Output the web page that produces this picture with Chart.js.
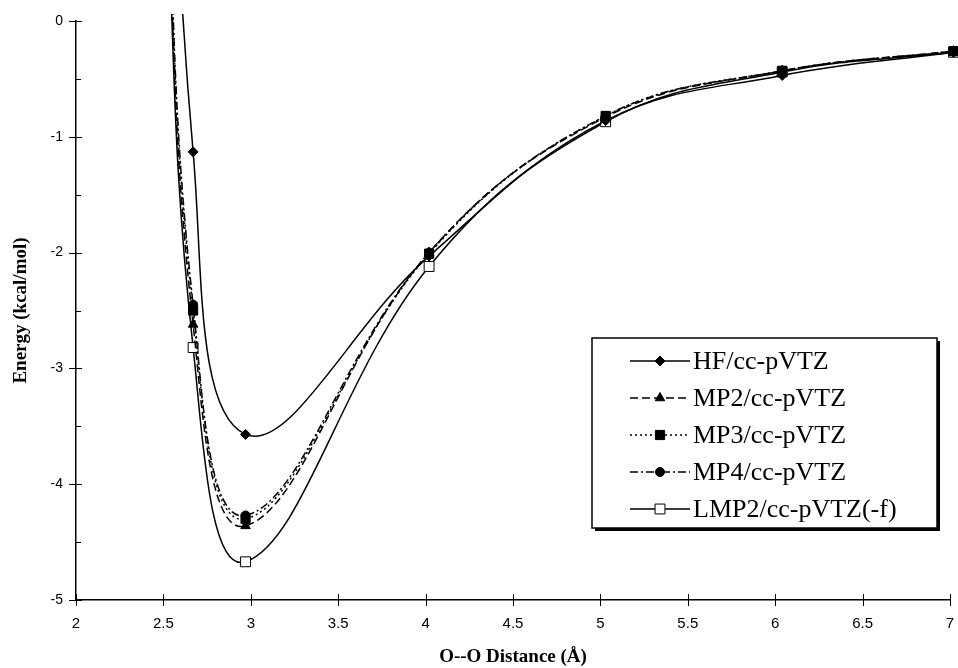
<!DOCTYPE html>
<html>
<head>
<meta charset="utf-8">
<script src="https://cdn.jsdelivr.net/npm/chart.js@4/dist/chart.umd.min.js"></script>
<style>
  html, body { margin: 0; padding: 0; background: #fff; }
  #wrap { width: 958px; height: 668px; }
</style>
</head>
<body>
<div id="wrap"><canvas id="chart" width="958" height="668"></canvas></div>
<script>
// data (O--O distance in angstrom, energy in kcal/mol)
const distances = [2.5, 2.67, 2.97, 4.02, 5.03, 6.04, 7.02];
const hfValues   = [4.5, -1.13, -3.57, -2.03, -0.86, -0.47, -0.27];
const mp2Values  = [2.0, -2.62, -4.36, -2.00, -0.83, -0.43, -0.26];
const mp3Values  = [2.1, -2.50, -4.30, -2.01, -0.82, -0.43, -0.26];
const mp4Values  = [2.2, -2.45, -4.27, -2.00, -0.82, -0.43, -0.26];
const lmp2Values = [1.8, -2.82, -4.67, -2.12, -0.87, -0.44, -0.27];

const seriesNames = ['HF/cc-pVTZ', 'MP2/cc-pVTZ', 'MP3/cc-pVTZ', 'MP4/cc-pVTZ', 'LMP2/cc-pVTZ(-f)'];
const xTicks = [2, 2.5, 3, 3.5, 4, 4.5, 5, 5.5, 6, 6.5, 7];

const sansFont = '"Liberation Sans Narrow", "Liberation Sans", Arial, sans-serif';
const serifFont = '"Liberation Serif", "Times New Roman", serif';

function toPoints(values) {
    return distances.map((d, i) => ({ x: d, y: values[i] }));
}

function makeSet(label, values, dash, style, radius, fill) {
    return {
        label: label,
        data: toPoints(values),
        borderColor: '#000',
        borderWidth: 1.5,
        borderDash: dash,
        pointStyle: style,
        pointRadius: radius,
        pointBackgroundColor: fill,
        pointBorderColor: '#000',
        pointBorderWidth: 1,
        tension: 0.4,
        clip: { left: 0, top: 7, right: 10, bottom: 0 }
    };
}

// tick marks that cross the axes, with minor ticks on the energy axis
const axisTicks = {
    id: 'axisTicks',
    afterDraw(chart) {
        const { ctx, chartArea, scales } = chart;
        ctx.save();
        ctx.strokeStyle = '#000';
        ctx.lineWidth = 1;
        ctx.beginPath();
        xTicks.forEach(v => {
            const px = Math.round(scales.x.getPixelForValue(v)) + 0.5;
            ctx.moveTo(px, chartArea.bottom - 6);
            ctx.lineTo(px, chartArea.bottom + 6);
        });
        scales.y.ticks.forEach(t => {
            const py = Math.round(scales.y.getPixelForValue(t.value)) + 0.5;
            if (Number.isInteger(t.value)) {
                ctx.moveTo(chartArea.left - 7, py);
                ctx.lineTo(chartArea.left + 6, py);
            } else {
                ctx.moveTo(chartArea.left, py);
                ctx.lineTo(chartArea.left + 5, py);
            }
        });
        ctx.stroke();
        ctx.restore();
    }
};

// boxed legend inside the plot, drawn like the original one
const boxLegend = {
    id: 'boxLegend',
    afterDraw(chart) {
        const ctx = chart.ctx;
        const box = { left: 592, top: 338, right: 937, bottom: 528 };
        ctx.save();
        ctx.fillStyle = '#fff';
        ctx.fillRect(box.left, box.top, box.right - box.left, box.bottom - box.top);
        ctx.fillStyle = '#000';
        ctx.fillRect(box.left + 3, box.bottom, box.right - box.left, 3);
        ctx.fillRect(box.right, box.top + 3, 3, box.bottom - box.top);
        ctx.strokeStyle = '#000';
        ctx.lineWidth = 1.5;
        ctx.strokeRect(box.left, box.top, box.right - box.left, box.bottom - box.top);

        chart.data.datasets.forEach((ds, i) => {
            const y = 361 + i * 37;
            ctx.beginPath();
            ctx.setLineDash(ds.borderDash);
            ctx.lineWidth = 1.5;
            ctx.moveTo(630, y);
            ctx.lineTo(690, y);
            ctx.stroke();
            ctx.setLineDash([]);
            ctx.fillStyle = ds.pointBackgroundColor;
            ctx.strokeStyle = '#000';
            ctx.lineWidth = 1;
            Chart.helpers.drawPoint(ctx, {
                pointStyle: ds.pointStyle,
                radius: ds.pointRadius,
                rotation: 0,
                borderWidth: 1
            }, 660, y);
            ctx.fillStyle = '#000';
            ctx.font = '26px ' + serifFont;
            ctx.textBaseline = 'middle';
            ctx.textAlign = 'left';
            ctx.fillText(ds.label, 693, y + 1);
        });
        ctx.restore();
    }
};

new Chart(document.getElementById('chart'), {
    type: 'line',
    data: {
        datasets: [
            makeSet(seriesNames[0], hfValues, [], 'rectRot', 5, '#000'),
            makeSet(seriesNames[1], mp2Values, [8, 4], 'triangle', 5.5, '#000'),
            makeSet(seriesNames[2], mp3Values, [2, 3], 'rect', 6.5, '#000'),
            makeSet(seriesNames[3], mp4Values, [8, 3, 2, 3], 'circle', 4.5, '#000'),
            makeSet(seriesNames[4], lmp2Values, [], 'rect', 7, '#fff')
        ]
    },
    options: {
        responsive: false,
        animation: false,
        layout: { padding: { left: 10, top: 21, right: 8, bottom: 0 } },
        plugins: {
            legend: { display: false },
            tooltip: { enabled: false }
        },
        scales: {
            x: {
                type: 'linear',
                min: 2,
                max: 7,
                afterFit: s => { s.height = 68; s.paddingLeft = 0; s.paddingRight = 0; },
                afterBuildTicks: s => { s.ticks = xTicks.map(v => ({ value: v })); },
                ticks: {
                    color: '#000',
                    font: { family: sansFont, size: 15 },
                    padding: 7,
                    maxRotation: 0,
                    callback: v => String(v)
                },
                grid: { display: false },
                border: { display: true, color: '#000', width: 1.5 },
                title: {
                    display: true,
                    text: 'O--O Distance (Å)',
                    color: '#000',
                    font: { family: serifFont, size: 19, weight: 'bold' },
                    padding: 0
                }
            },
            y: {
                min: -5,
                max: 0,
                afterFit: s => { s.width = 66; s.paddingTop = 0; s.paddingBottom = 0; },
                ticks: {
                    stepSize: 0.5,
                    color: '#000',
                    font: { family: sansFont, size: 14 },
                    padding: 5,
                    callback: v => Number.isInteger(v) ? String(v) : ''
                },
                grid: { display: false },
                border: { display: true, color: '#000', width: 1.5 },
                title: {
                    display: true,
                    text: 'Energy (kcal/mol)',
                    color: '#000',
                    font: { family: serifFont, size: 19, weight: 'bold' },
                    padding: 0
                }
            }
        }
    },
    plugins: [axisTicks, boxLegend]
});
</script>
</body>
</html>
